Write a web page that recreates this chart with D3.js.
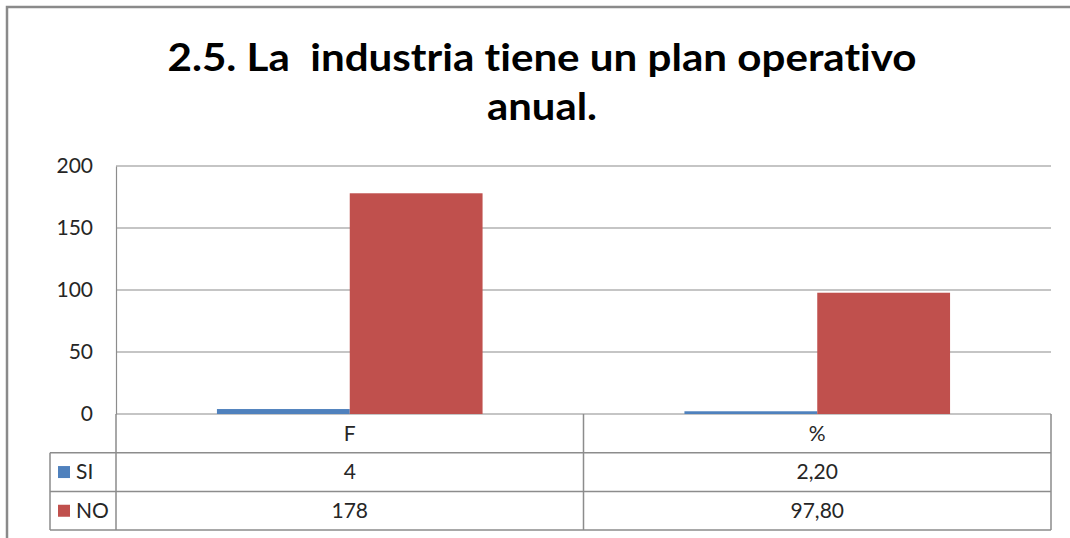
<!DOCTYPE html>
<html>
<head>
<meta charset="utf-8">
<script src="https://cdn.jsdelivr.net/npm/d3@7"></script>
<style>
  body { margin: 0; background: #fff; }
  svg { display: block; }
</style>
</head>
<body>
<svg id="chart"></svg>
<script>
// data
var categories = ["F", "%"];
var seriesNames = ["SI", "NO"];
var siValues = [4, 2.20];
var noValues = [178, 97.80];
var siLabels = ["4", "2,20"];
var noLabels = ["178", "97,80"];
var yTicks = [0, 50, 100, 150, 200];

var width = 1070, height = 538;
var colors = {SI: "#4F81BD", NO: "#C0504D"};
var gridColor = "#8c8c8c";
var font = "Lato, 'Open Sans', sans-serif";

var svg = d3.select("#chart")
    .attr("width", width)
    .attr("height", height);

svg.append("rect").attr("width", width).attr("height", height).attr("fill", "#fff");

// outer frame (only top and left visible)
svg.append("path")
    .attr("d", "M7," + height + "V7H" + width)
    .attr("fill", "none")
    .attr("stroke", "#8a8a8a")
    .attr("stroke-width", 2.5);

// title
var title = svg.append("text")
    .attr("text-anchor", "middle")
    .style("font", "bold 38px " + font)
    .style("font-variant-ligatures", "none")
    .style("font-feature-settings", "'liga' 0, 'clig' 0")
    .style("fill", "#000");
title.append("tspan").attr("x", 542).attr("y", 71)
    .attr("textLength", 749).attr("lengthAdjust", "spacingAndGlyphs")
    .text("2.5. La\u00a0 industria tiene un plan operativo");
title.append("tspan").attr("x", 542).attr("y", 120)
    .attr("textLength", 110).attr("lengthAdjust", "spacingAndGlyphs")
    .text("anual.");

// plot area
var plotLeft = 116, plotRight = 1051, plotTop = 166, plotBottom = 414;

var y = d3.scaleLinear().domain([0, 200]).range([plotBottom, plotTop]);
var x0 = d3.scaleBand().domain(categories).range([plotLeft, plotRight]).padding(0);
var x1 = d3.scaleBand().domain(seriesNames).range([0, x0.bandwidth()])
    .paddingInner(0).paddingOuter(0.76);

// gridlines
svg.append("g")
    .selectAll("line")
    .data(yTicks)
    .enter()
    .append("line")
    .attr("x1", plotLeft)
    .attr("x2", plotRight)
    .attr("y1", function(d){ return y(d); })
    .attr("y2", function(d){ return y(d); })
    .attr("stroke", gridColor)
    .attr("stroke-width", 1.2);

var textStyle = "21px " + font;
var textColor = "#262626";

// y axis
var yAxis = svg.append("g")
    .attr("transform", "translate(" + plotLeft + ",0)")
    .call(d3.axisLeft(y).tickValues(yTicks).tickSize(0).tickPadding(23));
yAxis.select(".domain").attr("stroke", gridColor).attr("stroke-width", 1.2);
yAxis.selectAll("text")
    .style("font", textStyle)
    .style("fill", textColor);

// bars
var rows = categories.map(function(c, i){
    return {cat: c, values: [
        {name: "SI", value: siValues[i]},
        {name: "NO", value: noValues[i]}
    ]};
});

var groups = svg.selectAll("g.cat")
    .data(rows)
    .enter()
    .append("g")
    .attr("class", "cat")
    .attr("transform", function(d){ return "translate(" + x0(d.cat) + ",0)"; });

groups.selectAll("rect")
    .data(function(d){ return d.values; })
    .enter()
    .append("rect")
    .attr("x", function(d){ return x1(d.name); })
    .attr("width", x1.bandwidth())
    .attr("y", function(d){ return y(d.value); })
    .attr("height", function(d){ return plotBottom - y(d.value); })
    .attr("fill", function(d){ return colors[d.name]; });

// data table
var rowH = 38.7;
var tableLeft = 50;
var tbl = svg.append("g")
    .attr("stroke", gridColor)
    .attr("stroke-width", 1.5)
    .attr("fill", "none");

tbl.append("path")
    .attr("d",
        "M" + plotLeft + "," + plotBottom + "V" + (plotBottom + 3 * rowH) +
        "M" + plotRight + "," + plotBottom + "V" + (plotBottom + 3 * rowH) +
        "M" + x0("%") + "," + plotBottom + "V" + (plotBottom + 3 * rowH) +
        "M" + tableLeft + "," + (plotBottom + rowH) + "V" + (plotBottom + 3 * rowH) +
        "M" + tableLeft + "," + (plotBottom + rowH) + "H" + plotRight +
        "M" + tableLeft + "," + (plotBottom + 2 * rowH) + "H" + plotRight +
        "M" + tableLeft + "," + (plotBottom + 3 * rowH) + "H" + plotRight);

// category header row
svg.selectAll("text.catLabel")
    .data(categories)
    .enter()
    .append("text")
    .attr("class", "catLabel")
    .attr("x", function(d){ return x0(d) + x0.bandwidth() / 2; })
    .attr("y", plotBottom + rowH / 2)
    .attr("dy", "0.35em")
    .attr("text-anchor", "middle")
    .style("font", textStyle)
    .style("fill", textColor)
    .text(function(d){ return d; });

var labelRows = [siLabels, noLabels];
seriesNames.forEach(function(name, r){
    var cy = plotBottom + (r + 1.5) * rowH;
    svg.append("rect")
        .attr("x", 58)
        .attr("y", cy - 6)
        .attr("width", 12)
        .attr("height", 12)
        .attr("fill", colors[name]);
    svg.append("text")
        .attr("x", 76)
        .attr("y", cy)
        .attr("dy", "0.35em")
        .style("font", textStyle)
        .style("fill", textColor)
        .text(name);
    svg.selectAll(null)
        .data(labelRows[r])
        .enter()
        .append("text")
        .attr("x", function(d, i){ return x0(categories[i]) + x0.bandwidth() / 2; })
        .attr("y", cy)
        .attr("dy", "0.35em")
        .attr("text-anchor", "middle")
        .style("font", textStyle)
        .style("fill", textColor)
        .text(function(d){ return d; });
});
</script>
</body>
</html>
